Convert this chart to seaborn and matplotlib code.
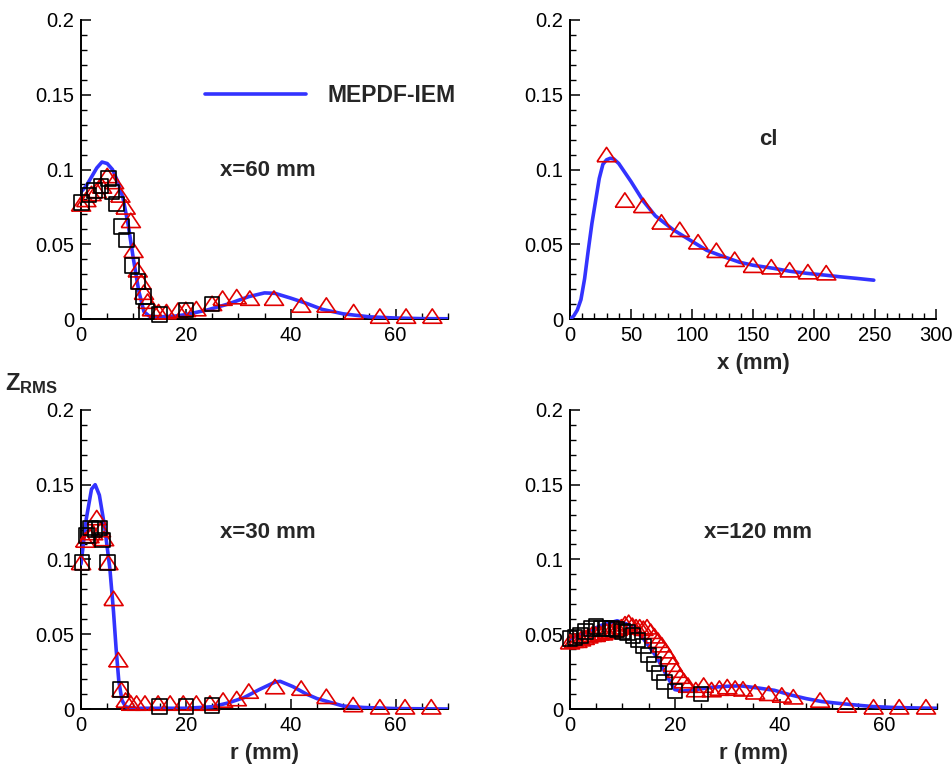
import numpy as np
import pandas as pd
import matplotlib
matplotlib.use("Agg")
import matplotlib.pyplot as plt
from matplotlib.ticker import MultipleLocator, FuncFormatter
import seaborn as sns

# ---------------- data ----------------
# x = 60 mm (top-left)
r60_line = [0, 1, 2, 3, 4, 5, 6, 7, 8, 9, 10, 11, 12, 13, 15, 18, 20, 24, 28, 32, 35, 37, 40, 43, 46, 50, 55, 60, 65, 70]
z60_line = [0.085, 0.089, 0.095, 0.101, 0.105, 0.104, 0.100, 0.092, 0.081, 0.063, 0.040, 0.019, 0.005, 0.002,
            0.0015, 0.002, 0.003, 0.006, 0.010, 0.015, 0.0175, 0.0172, 0.014, 0.0105, 0.0065, 0.0035, 0.0015,
            0.0007, 0.0003, 0.0002]
r60_tri = [0.0, 1.0, 2.0, 3.0, 4.0, 5.0, 6.3, 7.5, 8.5, 9.5, 10.0, 10.8, 11.5, 12.0, 12.7, 13.5, 14.8, 16.3,
           18.5, 20.0, 22.0, 25.0, 27.0, 29.7, 32.2, 36.8, 42.0, 46.8, 52.0, 57.0, 62.0, 67.0]
z60_tri = [0.077, 0.080, 0.084, 0.086, 0.089, 0.096, 0.092, 0.083, 0.075, 0.066, 0.046, 0.033, 0.025, 0.018,
           0.012, 0.007, 0.005, 0.005, 0.006, 0.0065, 0.007, 0.0105, 0.014, 0.015, 0.014, 0.014, 0.0094,
           0.0094, 0.005, 0.002, 0.002, 0.002]
r60_sq = [0.1, 1.5, 2.6, 3.8, 5.2, 5.9, 6.8, 7.7, 8.7, 9.7, 10.9, 11.9, 12.5, 15.0, 20.0, 25.0]
z60_sq = [0.078, 0.083, 0.086, 0.089, 0.094, 0.085, 0.077, 0.062, 0.053, 0.036, 0.025, 0.015, 0.005, 0.003,
          0.006, 0.010]

# centreline (top-right)
x_cl_line = [0, 3, 6, 9, 12, 15, 18, 21, 24, 27, 30, 33, 36, 40, 50, 60, 70, 85, 100, 112, 125, 139, 150, 167,
             180, 194, 210, 221, 235, 249]
z_cl_line = [0.0, 0.002, 0.006, 0.013, 0.027, 0.046, 0.064, 0.079, 0.094, 0.1035, 0.1065, 0.1075, 0.107, 0.104,
             0.092, 0.079, 0.069, 0.0595, 0.052, 0.046, 0.042, 0.038, 0.036, 0.0339, 0.032, 0.0306, 0.0293,
             0.0283, 0.0272, 0.026]
x_cl_tri = [30, 45, 60, 75, 90, 105, 120, 135, 150, 165, 180, 195, 210]
z_cl_tri = [0.110, 0.0796, 0.076, 0.065, 0.060, 0.0517, 0.046, 0.040, 0.036, 0.035, 0.033, 0.0317, 0.031]

# x = 30 mm (bottom-left)
r30_line = [0, 1, 2, 2.7, 3.5, 4.5, 5.5, 6.2, 6.7, 7.2, 7.8, 8.5, 10, 20, 25, 28, 31, 34, 37, 38, 40.4, 43, 45,
            50, 54, 60, 70]
z30_line = [0.097, 0.127, 0.147, 0.150, 0.143, 0.122, 0.094, 0.065, 0.040, 0.019, 0.006, 0.0015, 0.0005,
            0.0005, 0.0015, 0.004, 0.0075, 0.013, 0.018, 0.0185, 0.015, 0.010, 0.007, 0.002, 0.001, 0.0003, 0.0]
r30_tri = [0.0, 0.8, 1.6, 2.3, 3.0, 3.8, 4.4, 5.2, 6.2, 7.1, 7.7, 8.5, 9.5, 10.6, 12.2, 14.7, 17.0, 19.5, 22.0,
           24.6, 27.1, 29.7, 32.0, 37.0, 42.0, 46.8, 51.9, 57.0, 61.8, 66.8]
z30_tri = [0.098, 0.113, 0.116, 0.118, 0.128, 0.120, 0.114, 0.098, 0.074, 0.033, 0.013, 0.006, 0.004, 0.004,
           0.004, 0.004, 0.004, 0.004, 0.004, 0.004, 0.006, 0.007, 0.012, 0.015, 0.014, 0.0085, 0.003, 0.0015,
           0.0015, 0.0015]
r30_sq = [0.2, 1.0, 1.8, 2.7, 3.5, 4.1, 5.1, 7.5, 15.0, 20.0, 25.0]
z30_sq = [0.098, 0.116, 0.121, 0.120, 0.121, 0.113, 0.098, 0.013, 0.0015, 0.0015, 0.0025]

# x = 120 mm (bottom-right)
r120_line = [0, 3, 6, 9, 11.5, 14, 16.5, 18.5, 20, 21.5, 24, 27, 30, 32.5, 36, 39, 42, 45, 48, 51.5, 55, 58,
             62, 66, 70]
z120_line = [0.047, 0.051, 0.056, 0.059, 0.056, 0.047, 0.035, 0.022, 0.013, 0.012, 0.013, 0.0145, 0.0152,
             0.0155, 0.014, 0.0125, 0.0095, 0.007, 0.005, 0.0037, 0.0025, 0.0016, 0.001, 0.0007, 0.0005]
r120_tri = [0.0, 0.7, 1.4, 2.1, 2.8, 3.5, 4.2, 4.9, 5.6, 6.3, 7.0, 7.7, 8.4, 9.1, 9.8, 10.5, 11.2, 11.9, 12.6,
            13.3, 14.0, 14.7, 15.4, 16.1, 16.8, 17.5, 18.2, 18.9, 19.6, 20.3, 21.0, 21.7, 22.5, 24.0, 25.5,
            27.0, 28.5, 30.0, 31.5, 33.0, 35.3, 37.9, 40.4, 42.6, 47.7, 52.8, 57.9, 62.8, 67.9]
z120_tri = [0.045, 0.046, 0.046, 0.047, 0.048, 0.049, 0.050, 0.050, 0.051, 0.051, 0.052, 0.052, 0.053, 0.054,
            0.055, 0.057, 0.058, 0.056, 0.055, 0.055, 0.054, 0.055, 0.052, 0.049, 0.046, 0.043, 0.039, 0.035,
            0.030, 0.026, 0.022, 0.019, 0.016, 0.013, 0.016, 0.013, 0.014, 0.015, 0.014, 0.0135, 0.0115,
            0.0105, 0.0094, 0.0082, 0.006, 0.0027, 0.0015, 0.0015, 0.0015]
r120_sq = [0.0, 1.0, 2.0, 3.0, 4.0, 5.0, 6.0, 7.0, 8.0, 9.0, 10.0, 11.0, 12.0, 13.0, 14.0, 15.0, 16.0, 17.0,
           18.0, 20.0, 25.0]
z120_sq = [0.047, 0.048, 0.049, 0.052, 0.054, 0.055, 0.054, 0.054, 0.054, 0.053, 0.052, 0.051, 0.049, 0.046,
           0.042, 0.036, 0.030, 0.024, 0.018, 0.012, 0.010]

legend_label = "MEPDF-IEM"
y_ticks = [0, 0.05, 0.1, 0.15, 0.2]

# ---------------- style ----------------
sns.set_style("ticks")
plt.rcParams["font.family"] = ["Liberation Sans", "DejaVu Sans"]
plt.rcParams["mathtext.fontset"] = "custom"
plt.rcParams["mathtext.rm"] = "Liberation Sans"
plt.rcParams["mathtext.bf"] = "Liberation Sans:bold"

BLUE = "#3333ff"
RED = "#e00000"
TRI = [(-1.0, -0.75), (1.0, -0.75), (0.0, 0.75), (-1.0, -0.75)]

fig = plt.figure(figsize=(9.52, 7.67), dpi=100)
W = 0.3855
H = 0.390
ax_tl = fig.add_axes([0.0851, 0.584, W, H])
ax_tr = fig.add_axes([0.5987, 0.584, 0.3845, H])
ax_bl = fig.add_axes([0.0851, 0.0756, W, H])
ax_br = fig.add_axes([0.5987, 0.0756, 0.3855, H])


def draw(ax, xl, yl, xt=None, yt=None, xs=None, ys=None, label=None):
    sns.lineplot(x=xl, y=yl, ax=ax, color=BLUE, linewidth=2.6, label=label, estimator=None, sort=False,
                 zorder=3)
    if xt is not None:
        sns.scatterplot(x=xt, y=yt, ax=ax, marker=TRI, s=190, facecolors="none", edgecolor=RED,
                        linewidth=1.2, zorder=4)
    if xs is not None:
        sns.scatterplot(x=xs, y=ys, ax=ax, marker="s", s=110, facecolors="none", edgecolor="black",
                        linewidth=1.2, zorder=5)


draw(ax_tl, r60_line, z60_line, r60_tri, z60_tri, r60_sq, z60_sq, label=legend_label)
draw(ax_tr, x_cl_line, z_cl_line, x_cl_tri, z_cl_tri)
draw(ax_bl, r30_line, z30_line, r30_tri, z30_tri, r30_sq, z30_sq)
draw(ax_br, r120_line, z120_line, r120_tri, z120_tri, r120_sq, z120_sq)

fmt = FuncFormatter(lambda v, p: f"{v:g}")
for ax in [ax_tl, ax_tr, ax_bl, ax_br]:
    ax.set_ylim(0, 0.2)
    ax.set_yticks(y_ticks)
    ax.yaxis.set_minor_locator(MultipleLocator(0.01))
    ax.yaxis.set_major_formatter(fmt)
    ax.xaxis.set_major_formatter(fmt)
    for s in ["top", "right"]:
        ax.spines[s].set_visible(False)
    for s in ["left", "bottom"]:
        ax.spines[s].set_linewidth(1.4)
        ax.spines[s].set_color("black")
    ax.tick_params(which="major", direction="in", length=7, width=1.1, labelsize=14.5, pad=5, colors="black")
    ax.tick_params(which="minor", direction="in", length=4, width=1.0, colors="black")
    ax.set_xlabel("")
    ax.set_ylabel("")
    for c in ax.collections:
        c.set_clip_on(False)

for ax in [ax_tl, ax_bl, ax_br]:
    ax.set_xlim(0, 70)
    ax.xaxis.set_major_locator(MultipleLocator(20))
    ax.xaxis.set_minor_locator(MultipleLocator(5))
ax_tr.set_xlim(0, 300)
ax_tr.xaxis.set_major_locator(MultipleLocator(50))
ax_tr.xaxis.set_minor_locator(MultipleLocator(10))

lab_kw = dict(fontsize=16, fontweight="bold")
ax_tr.set_xlabel("x (mm)", labelpad=6, **lab_kw)
ax_bl.set_xlabel("r (mm)", labelpad=6, **lab_kw)
ax_br.set_xlabel("r (mm)", labelpad=6, **lab_kw)

ax_tl.text(0.51, 0.498, "x=60 mm", transform=ax_tl.transAxes, ha="center", va="center", **lab_kw)
ax_tr.text(0.541, 0.599, "cl", transform=ax_tr.transAxes, ha="center", va="center", **lab_kw)
ax_bl.text(0.51, 0.589, "x=30 mm", transform=ax_bl.transAxes, ha="center", va="center", **lab_kw)
ax_br.text(0.512, 0.589, "x=120 mm", transform=ax_br.transAxes, ha="center", va="center", **lab_kw)

leg = ax_tl.legend(loc="center left", bbox_to_anchor=(0.338, 0.746), frameon=False, borderpad=0,
                   borderaxespad=0, handlelength=4.4, handletextpad=0.95,
                   prop={"size": 16.5, "weight": "bold"})

fig.text(0.033, 0.5, r"$\mathbf{Z_{RMS}}$", fontsize=17, ha="center", va="center")

fig.savefig("out.png", dpi=100)
